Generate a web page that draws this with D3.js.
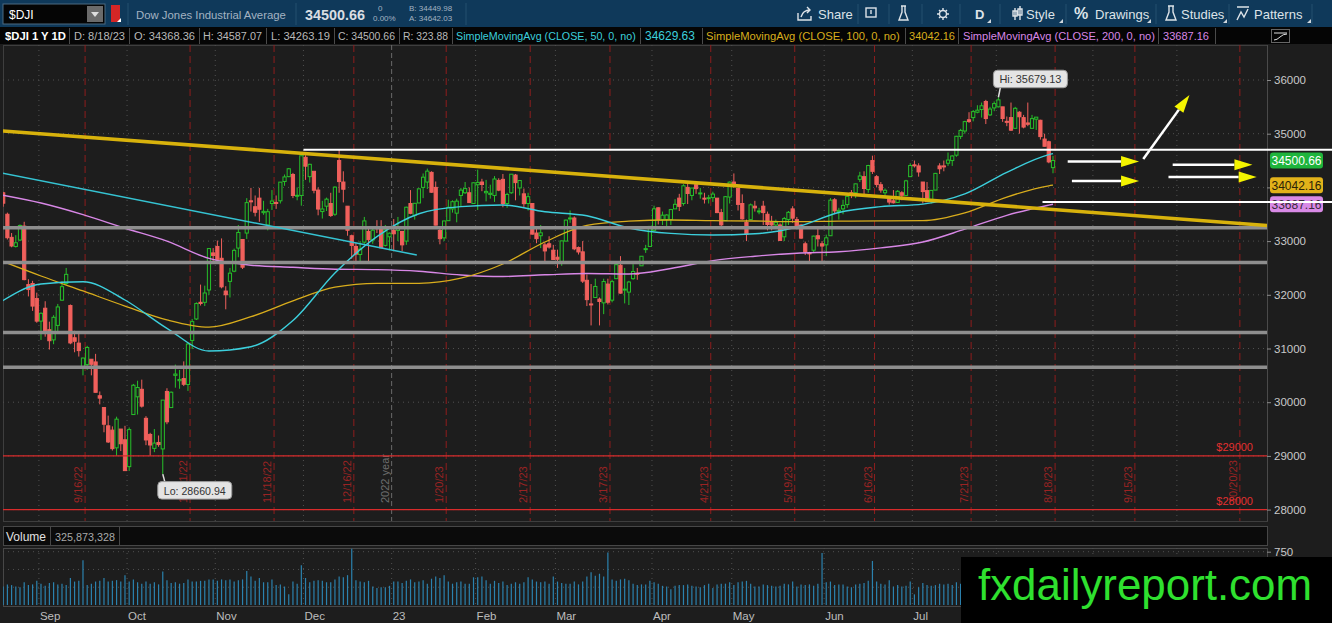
<!DOCTYPE html>
<html>
<head>
<meta charset="utf-8">
<title>$DJI 1 Y 1D</title>
<script src="https://cdn.jsdelivr.net/npm/d3@7"></script>
<style>
  html, body { margin: 0; padding: 0; background: #1d1d1d; overflow: hidden; }
  svg { display: block; font-family: "Liberation Sans", Arial, sans-serif; }
</style>
</head>
<body>
<svg id="chart" width="1332" height="623"></svg>
<script>
// trading calendar (expansion area runs to the end of Oct 2023)
const firstDay = "2022-08-18", lastDay = "2023-10-31";
const holidays = ["2022-09-05","2022-11-24","2022-12-26","2023-01-02","2023-01-16","2023-02-20",
  "2023-04-07","2023-05-29","2023-06-19","2023-07-04","2023-09-04"];

// daily candles 8/18/22 .. 8/18/23, one row per month
const opens = [
  33943,33900,33500,33070,32900,33020,33280,32190,32210,31930,
  31510,31750,31350,31160,31430,31900,32210,31800,31200,31100,30650,30700,30800,30750,30120,29900,29560,29480,29150,29500,29300,
  28800,29770,30100,30240,29700,29400,29140,29250,29130,30200,29900,30500,30400,30440,30330,31150,31550,31860,31860,32090,32780,
  32900,32680,32070,32250,32440,32870,33030,33150,33750,33640,33800,33530,33300,33700,33720,33750,34110,34200,34240,33850,33850,
  34560,34200,34300,33950,33550,33650,33700,33500,34500,34100,33650,33100,32900,32750,32980,33180,33020,33250,33250,32920,33080,
  33200,33200,33180,33000,33700,33480,33710,34000,34100,34280,34000,33200,33060,33380,33600,33520,33850,33900,33900,33700,
  34050,34100,33900,33870,33850,34130,34150,33700,33900,34230,33990,33880,33700,33700,33150,33100,32930,32950,32830,
  32700,32600,33000,33420,33430,32880,32800,32270,31830,31950,31920,31850,32200,31900,32300,32550,32100,32050,32300,32400,32540,32850,32900,
  33200,33620,33400,33400,33400,33600,33800,33700,34000,33850,34050,33880,33800,33800,33810,33800,33530,33380,33820,
  34100,33980,33700,33350,33400,33650,33560,33650,33500,33350,33300,33300,33080,33400,33600,33400,33300,32950,32780,32830,33100,32950,
  32930,33100,33770,33550,33600,33680,33900,33900,34150,34200,33960,34500,34200,34050,33900,33800,33750,33720,33900,33850,34200,
  34420,34400,34100,33940,33750,33950,34400,34400,34450,34500,34600,34950,35050,35260,35300,35400,35450,35600,35350,35480,
  35500,35500,35230,35300,35100,35400,35300,35200,35100,35270,35250,34900,34850,34368.36
];
const highs = [
  34043,33916,33530,33150,33110,33310,33360,32290,32260,32040,
  31670,31880,31500,31620,31830,32250,32500,31820,31330,31280,30830,31050,30800,30900,30200,29900,29750,29550,29730,29500,29560,
  29530,30340,30400,30420,29740,29430,29500,29380,30040,30260,30200,30700,30600,30760,31110,31550,31860,32190,32170,32870,32870,
  33010,33050,32160,32500,32860,33300,33030,33800,33990,33850,33990,33750,33600,33950,33850,34100,34240,34360,34270,34000,34590,
  34600,34440,34300,34000,33750,33810,33900,34020,34712,34300,33650,33120,32970,33000,33450,33230,33250,33390,33390,33300,33160,
  33410,33450,33180,33640,33950,33710,33980,34260,34350,34300,34110,33250,33380,33770,33760,33790,33990,34100,34000,34090,
  34330,34160,34140,34050,34210,34170,34250,33900,34250,34250,34130,33980,33900,33700,33230,33300,32970,33090,32930,
  32840,33010,33400,33570,33460,32900,33000,32380,32200,32300,31950,32300,32300,32280,32600,32720,32500,32260,32570,32500,32720,32930,33280,
  33660,33630,33550,33500,33600,33780,33880,34060,34080,33990,34120,33990,33900,33860,33920,33800,33600,33840,34110,
  34260,33980,33870,33400,33700,33750,33620,33750,33550,33470,33400,33330,33450,33560,33650,33450,33320,32990,32800,33100,33250,33000,
  33120,33800,33800,33620,33770,33850,33950,34070,34290,34300,34420,34590,34230,34100,33980,33800,33950,33950,33930,34140,34450,
  34500,34450,34100,34100,33950,34270,34450,34500,34650,34600,34960,35090,35240,35400,35440,35530,35580,35630,35500,35600,
  35679.13,35500,35320,35580,35500,35420,35350,35580,35350,35310,35260,35000,34870,34587.07
];
const lows = [
  33824,33640,33030,32885,32880,33000,32270,31970,31700,31480,
  31160,31220,30980,31080,31320,31890,32190,31080,30930,30850,30500,30600,30500,30180,29960,29440,29240,29100,29000,29090,28720,
  28720,29770,29770,29900,29200,29000,29070,29170,28660.94,29590,29900,30270,30250,30300,30210,30990,31530,31800,31790,32000,32620,
  32600,32120,31730,31950,32420,32700,32480,33040,33550,33460,33360,33490,33200,33580,33600,33700,34030,34190,33800,33760,33660,
  34140,34090,33890,33480,33420,33560,33450,33470,33900,33720,33100,32670,32570,32580,32950,32580,32950,33150,32870,32900,32830,
  32810,33000,32810,32930,33500,33400,33710,33800,33970,33900,33290,32940,33000,33380,33530,33350,33650,33880,33710,33700,
  33580,33930,33740,33790,33730,33930,33630,33620,33880,33760,33850,33630,33570,33120,32960,32870,32620,32860,32650,
  32500,32540,33000,33340,32830,32750,32220,31790,31430,31950,31430,31640,31820,31860,32300,32020,31840,31810,32280,32280,32540,32780,32900,
  33200,33310,33300,33260,33300,33600,33560,33660,33690,33760,33880,33790,33700,33700,33730,33520,33280,33380,33700,
  34000,33570,33400,33000,33400,33550,33500,33300,33200,33200,33230,33010,33000,33300,33340,33220,33040,32740,32590,32780,32900,32590,
  32720,33100,33500,33400,33500,33620,33800,33800,34100,33860,33900,34250,34000,33900,33820,33680,33700,33720,33760,33850,34200,
  34370,34200,33700,33730,33700,33950,34250,34300,34400,34400,34570,34900,35000,35200,35230,35380,35300,35180,35330,35420,
  35490,35220,35140,35050,35100,35000,35100,35140,35100,35070,34890,34760,34450,34263.19
];
const closes = [
  33999,33706,33063,32909,32969,33291,32283,32098,31790,31510,
  31656,31318,31145,31581,31774,32151,32381,31104,31135,30961,30822,31019,30706,30184,30076,29590,29260,29135,29684,29226,28726,
  29490,30316,30274,29927,29297,29203,29239,29211,30039,29635,30186,30524,30424,30334,31083,31500,31837,31839,32034,32861,32733,
  32653,32148,32001,32403,32827,33161,32514,33716,33748,33537,33593,33554,33547,33746,33700,34098,34195,34347,33850,33853,34590,
  34395,34430,33947,33597,33598,33781,33476,34005,34108,33966,33202,32920,32757,32850,33376,33027,33203,33241,32875,33221,33147,
  33136,33270,32930,33631,33517,33704,33973,34190,34303,33910,33297,33045,33375,33630,33734,33744,33949,33978,33717,34086,
  34093,34054,33926,33891,34156,33949,33699,33869,34246,34089,34128,33697,33827,33130,33045,33154,32817,32889,32657,
  32662,33004,33391,33431,32856,32798,32255,31910,31820,32155,31875,32247,31862,32245,32561,32031,32106,32238,32433,32395,32718,32860,33274,
  33601,33403,33483,33486,33587,33685,33647,34030,33887,33988,33977,33897,33787,33809,33876,33531,33302,33827,34098,
  34051,33684,33414,33128,33675,33619,33562,33531,33309,33301,33349,33012,33420,33536,33427,33287,33056,32800,32765,33093,33043,32908,
  33061,33762,33563,33573,33665,33833,33876,34066,34212,33979,34408,34299,34053,33951,33946,33727,33714,33927,33853,34122,34408,
  34418,34288,33922,33734,33944,34261,34347,34395,34509,34585,34952,35061,35225,35228,35411,35438,35520,35282,35459,35560,
  35630,35283,35216,35066,35473,35315,35124,35176,35281,35308,34946,34766,34475,34500.66
];
// volume in millions of shares
const volumes = [
  250,260,290,280,260,250,320,280,290,340,
  300,270,310,320,290,300,280,380,330,340,630,280,300,330,340,380,330,340,350,330,420,
  330,360,320,300,330,300,320,290,470,350,310,320,300,310,360,330,330,340,340,360,360,
  340,360,350,360,330,350,360,480,400,340,380,320,320,360,280,290,260,150,330,300,560,
  380,320,340,350,340,320,320,360,400,390,420,790,350,330,320,340,260,240,250,250,270,
  330,330,310,340,360,320,330,350,300,370,400,380,420,330,300,320,330,300,300,390,
  390,400,350,300,340,310,330,280,300,320,300,320,390,360,330,320,330,300,400,
  330,310,300,300,330,290,330,400,460,410,440,400,740,360,340,360,370,350,300,280,290,290,340,
  320,300,270,260,220,270,280,280,290,270,260,250,280,300,240,290,300,300,320,
  280,320,330,340,300,260,260,290,280,270,260,270,300,290,330,260,290,280,290,270,300,730,
  320,330,280,290,290,260,250,290,300,310,340,620,330,300,290,350,260,280,260,270,330,
  150,250,310,280,270,280,300,290,300,280,320,300,310,380,290,300,330,380,320,330,
  300,330,300,290,270,290,280,290,270,260,290,280,300,325.873328
];

// moving averages, every 10 sessions
const smaDates = ["2022-08-18","2022-09-01","2022-09-16","2022-09-30","2022-10-14","2022-10-28","2022-11-11",
  "2022-11-28","2022-12-12","2022-12-27","2023-01-11","2023-01-26","2023-02-09","2023-02-24","2023-03-10",
  "2023-03-24","2023-04-10","2023-04-24","2023-05-08","2023-05-22","2023-06-06","2023-06-21","2023-07-06",
  "2023-07-20","2023-08-03","2023-08-17","2023-08-18"];
const sma50 = [31847,32201,32244,31903,31376,30953,31033,31521,32406,33084,33510,33642,33672,33547,33471,
  33244,33143,33114,33136,33263,33533,33641,33689,33879,34281,34610,34629.63];
const sma100 = [32648,32350,32071,31791,31534,31398,31592,31888,32142,32214,32214,32309,32574,32983,33292,
  33371,33393,33380,33374,33363,33372,33376,33380,33525,33821,34030,34042.16];
const sma200 = [33868,33709,33493,33240,32998,32678,32551,32512,32477,32469,32439,32369,32341,32372,32397,
  32387,32490,32637,32719,32775,32801,32873,32983,33222,33480,33670,33687.16];

// axis labels
const priceTicks = [28000,29000,30000,31000,32000,33000,34000,35000,36000];
const hiddenTickLabels = [34000]; // sits under the SMA badge on the axis
const volTicks = [250,500,750];
const monthStarts = ["2022-09-01","2022-10-03","2022-11-01","2022-12-01","2023-01-03","2023-02-01","2023-03-01",
  "2023-04-03","2023-05-01","2023-06-01","2023-07-03","2023-08-01","2023-09-01","2023-10-02"];
const monthLabels = ["Sep","Oct","Nov","Dec","23","Feb","Mar","Apr","May","Jun","Jul","Aug","Sep","Oct"];
const expiryDates = ["2022-09-16","2022-10-21","2022-11-18","2022-12-16","2023-01-20","2023-02-17","2023-03-17",
  "2023-04-21","2023-05-19","2023-06-16","2023-07-21","2023-08-18","2023-09-15","2023-10-20"];
const expiryLabels = ["9/16/22","10/21/22","11/18/22","12/16/22","1/20/23","2/17/23","3/17/23",
  "4/21/23","5/19/23","6/16/23","7/21/23","8/18/23","9/15/23","10/20/23"];
const yearStart = "2023-01-03";

// hand drawings on the chart (date, price)
const grayLevels = [33250, 32600, 31300, 30650];
const redLevels = [29000, 28000];
const yellowTrend = [["2022-08-18", 35053], ["2023-10-31", 33287]];
const cyanTrend = [["2022-08-18", 34270], ["2023-01-10", 32741]];
const whiteRays = [["2022-11-30", 34700], ["2023-08-15", 33730]];
const arrows = [
  [["2023-08-23", 34480], ["2023-09-18", 34480]],
  [["2023-08-24", 34120], ["2023-09-18", 34120]],
  [["2023-09-19", 34530], ["2023-10-04", 35720]],
  [["2023-09-28", 34420], ["2023-10-25", 34420]],
  [["2023-09-27", 34195], ["2023-10-26", 34195]]
];

// ---------------------------------------------------------------
const W = 1332, H = 623;
const plotL = 3, plotR = 1267, plotT = 45, plotB = 521;
const volT = 548, volB = 606;
const cUp = "#27c02a", cDown = "#f0605c", cBg = "#1d1d1d";
const cCyan = "#3ccfdc", cGold = "#d9ad1c", cViolet = "#d887e6";

const calendar = [];
for (let d = new Date(firstDay + "T12:00:00Z"); d <= new Date(lastDay + "T12:00:00Z"); d.setUTCDate(d.getUTCDate() + 1)) {
  const s = d.toISOString().slice(0, 10), wd = d.getUTCDay();
  if (wd > 0 && wd < 6 && !holidays.includes(s)) calendar.push(s);
}
const dayIdx = new Map(calendar.map((s, i) => [s, i]));
const ix = s => dayIdx.get(s);
const last = closes.length - 1;
[opens, highs, lows, volumes].forEach(a => { if (a.length !== closes.length) throw new Error("length " + a.length); });
if (last !== ix("2023-08-18")) throw new Error("calendar mismatch " + last);

const x = d3.scaleLinear().domain([0, last]).range([-1, 1053]);
const half = (x(1) - x(0)) / 2;
const y = d3.scaleLinear().domain([28000, 36000]).range([509.6, 80]);
const yv = d3.scaleLinear().domain([0, 750]).range([605, 551.7]);
const mx = s => x(ix(s)) - half;      // month line: left edge of the first session
const ex = s => x(ix(s)) + half;      // expiry line: right edge of the session
const xd = s => x(ix(s)) + half;      // drawings anchor

const svg = d3.select("#chart");
svg.append("rect").attr("width", W).attr("height", H).attr("fill", cBg);

const defs = svg.append("defs");
defs.append("clipPath").attr("id", "clipP").append("rect")
  .attr("x", plotL).attr("y", plotT).attr("width", plotR - plotL).attr("height", plotB - plotT);
defs.append("clipPath").attr("id", "clipV").append("rect")
  .attr("x", plotL).attr("y", volT).attr("width", plotR - plotL).attr("height", volB - volT);

// shrink a text until it fits the width it has in the reference
function fit(sel, size) {
  sel.each(function (d) {
    const len = this.getComputedTextLength();
    if (len > d.w) d3.select(this).attr("font-size", size * d.w / len);
  });
}

// ---- top tool bar ----
const bar = svg.append("g");
bar.append("rect").attr("width", W).attr("height", 27).attr("fill", "#0f395a");
bar.append("rect").attr("x", 3).attr("y", 4).attr("width", 102).attr("height", 20).attr("fill", "#050505").attr("stroke", "#4d6a80");
bar.append("text").attr("x", 9).attr("y", 18.5).attr("fill", "#fff").attr("font-size", 12).text("$DJI");
bar.append("rect").attr("x", 87).attr("y", 6).attr("width", 16).attr("height", 16).attr("fill", "#6b6b6b");
bar.append("path").attr("d", "M91,12h8l-4,5z").attr("fill", "#ddd");
bar.append("rect").attr("x", 111).attr("y", 5).attr("width", 9).attr("height", 17).attr("fill", "#d42626");
bar.append("path").attr("d", "M117,22l4,0l0,-4z").attr("fill", "#fff");
[128, 296, 466].forEach(v => bar.append("line").attr("x1", v).attr("x2", v).attr("y1", 3).attr("y2", 25).attr("stroke", "#24506f"));
const headTexts = [
  { t: "Dow Jones Industrial Average", x: 136, y: 18.5, w: 150, s: 13, c: "#a3b3c2" },
  { t: closes[last].toFixed(2), x: 305, y: 19.5, w: 60, s: 15, c: "#d9dee3", b: true },
  { t: "0", x: 378, y: 11, w: 6, s: 8, c: "#a3b3c2" },
  { t: "0.00%", x: 373, y: 21, w: 28, s: 8, c: "#a3b3c2" },
  { t: "B: 34449.98", x: 409, y: 11, w: 53, s: 8, c: "#a3b3c2" },
  { t: "A: 34642.03", x: 409, y: 21, w: 53, s: 8, c: "#a3b3c2" }
];
bar.selectAll("text.head").data(headTexts).join("text").attr("class", "head")
  .attr("x", d => d.x).attr("y", d => d.y).attr("fill", d => d.c).attr("font-size", d => d.s)
  .attr("font-weight", d => d.b ? "bold" : null).text(d => d.t)
  .each(function (d) { const len = this.getComputedTextLength(); if (len > d.w) d3.select(this).attr("font-size", d.s * d.w / len); });

const tools = [
  { t: "Share", x: 818 }, { t: "D", x: 975, b: true }, { t: "Style", x: 1026 }, { t: "%", x: 1074, b: true, s: 16 },
  { t: "Drawings", x: 1095 }, { t: "Studies", x: 1181 }, { t: "Patterns", x: 1254 }
];
bar.selectAll("text.tool").data(tools).join("text").attr("class", "tool")
  .attr("x", d => d.x).attr("y", 18.5).attr("fill", "#dde3e8")
  .attr("font-size", d => d.s || 13).attr("font-weight", d => d.b ? "bold" : null).text(d => d.t);
[858, 889, 922, 960, 1000, 1066, 1156, 1229, 1312].forEach(v =>
  bar.append("line").attr("x1", v).attr("x2", v).attr("y1", 4).attr("y2", 24).attr("stroke", "#24506f"));
[987, 1059, 1147, 1223, 1307].forEach(v => bar.append("path").attr("d", `M${v},23h4v-4z`).attr("fill", "#cfd6dc"));
const ic = bar.append("g").attr("fill", "none").attr("stroke", "#dde3e8").attr("stroke-width", 1.4);
ic.append("path").attr("d", "M798,13v7h13v-4M801,17q2,-7 9,-7M807,7l3,3l-3,3");
ic.append("rect").attr("x", 866).attr("y", 8).attr("width", 10).attr("height", 9);
ic.append("path").attr("d", "M871,10v4");
ic.append("path").attr("d", "M901,6h5M902,6v6l-3,8h9l-3,-8v-6");
ic.append("path").attr("d", "M1168,6h6M1169,6v6l-3,8h10l-3,-8v-6");
ic.append("circle").attr("cx", 943).attr("cy", 14).attr("r", 3.5);
ic.append("path").attr("d", "M943,8v2M943,18v2M937,14h2M947,14h2M939,10l1.5,1.5M947,18l-1.5,-1.5M947,10l-1.5,1.5M939,18l1.5,-1.5");
ic.append("path").attr("d", "M1015,8v12M1020,6v14M1013,11h4v5h-4zM1018,9h4v6h-4z");
ic.append("path").attr("d", "M1237,7h12M1237,20l4,-8l3,5l4,-8");

// ---- study legend row ----
const leg = svg.append("g");
leg.append("rect").attr("y", 27).attr("width", W).attr("height", 17).attr("fill", "#050505");
const f2 = v => v.toFixed(2);
const legendCells = [
  { t: "$DJI 1 Y 1D", x: 5, w: 61, e: 69, c: "#ffffff", b: true },
  { t: "D: 8/18/23", x: 74, w: 51, e: 129, c: "#b9b9b9" },
  { t: "O: " + f2(opens[last]), x: 134, w: 61, e: 199, c: "#b9b9b9" },
  { t: "H: " + f2(highs[last]), x: 203, w: 59, e: 266, c: "#b9b9b9" },
  { t: "L: " + f2(lows[last]), x: 271, w: 59, e: 334, c: "#b9b9b9" },
  { t: "C: " + f2(closes[last]), x: 338, w: 57, e: 399, c: "#b9b9b9" },
  { t: "R: " + f2(highs[last] - lows[last]), x: 403, w: 45, e: 452, c: "#b9b9b9" },
  { t: "SimpleMovingAvg (CLOSE, 50, 0, no)", x: 456, w: 180, e: 640, c: cCyan },
  { t: f2(sma50[sma50.length - 1]), x: 645, w: 50, e: 702, c: cCyan },
  { t: "SimpleMovingAvg (CLOSE, 100, 0, no)", x: 706, w: 194, e: 905, c: cGold },
  { t: f2(sma100[sma100.length - 1]), x: 909, w: 46, e: 958, c: cGold },
  { t: "SimpleMovingAvg (CLOSE, 200, 0, no)", x: 963, w: 192, e: 1158, c: cViolet },
  { t: f2(sma200[sma200.length - 1]), x: 1163, w: 46, e: 1215, c: cViolet }
];
leg.selectAll("text").data(legendCells).join("text")
  .attr("x", d => d.x).attr("y", 40).attr("fill", d => d.c).attr("font-size", 12)
  .attr("font-weight", d => d.b ? "bold" : null).text(d => d.t)
  .call(fit, 12);
leg.selectAll("line").data(legendCells).join("line")
  .attr("x1", d => d.e + 0.5).attr("x2", d => d.e + 0.5).attr("y1", 28).attr("y2", 44).attr("stroke", "#4a4a4a");
leg.append("rect").attr("x", 1271.5).attr("y", 29.5).attr("width", 18).attr("height", 13).attr("fill", "none").attr("stroke", "#666");
leg.append("path").attr("d", "M1274,33h13M1274,40q3,0 6,-3t7,-3").attr("fill", "none").attr("stroke", "#ddd");

// ---- price panel ----
svg.append("rect").attr("x", plotL + 0.5).attr("y", plotT + 0.5).attr("width", plotR - plotL).attr("height", plotB - plotT)
  .attr("fill", cBg).attr("stroke", "#3e3e3e");
const plot = svg.append("g").attr("clip-path", "url(#clipP)");

plot.selectAll("line.hg").data(priceTicks).join("line").attr("class", "hg")
  .attr("x1", plotL).attr("x2", plotR).attr("y1", d => y(d)).attr("y2", d => y(d))
  .attr("stroke", "#505050").attr("stroke-dasharray", "1,4");
plot.selectAll("line.vg").data(monthStarts.filter(s => s !== yearStart)).join("line").attr("class", "vg")
  .attr("x1", mx).attr("x2", mx).attr("y1", plotT).attr("y2", plotB)
  .attr("stroke", "#505050").attr("stroke-dasharray", "1,4");
plot.append("line").attr("x1", mx(yearStart)).attr("x2", mx(yearStart)).attr("y1", plotT).attr("y2", plotB)
  .attr("stroke", "#6a6a6a").attr("stroke-dasharray", "5,3");
plot.append("text").attr("transform", `translate(${mx(yearStart) - 3},503) rotate(-90)`)
  .attr("fill", "#6e6e6e").attr("font-size", 11).text("2022 year");

plot.selectAll("line.exp").data(expiryDates).join("line").attr("class", "exp")
  .attr("x1", ex).attr("x2", ex).attr("y1", plotT).attr("y2", plotB)
  .attr("stroke", "#8e1d1d").attr("stroke-dasharray", "7,4");
plot.selectAll("text.exp").data(expiryDates).join("text").attr("class", "exp")
  .attr("transform", d => `translate(${ex(d) - 3},503) rotate(-90)`)
  .attr("fill", "#9a2323").attr("font-size", 11).text((d, i) => expiryLabels[i]);

// candles
const candles = closes.map((c, i) => ({ i, o: opens[i], h: highs[i], l: lows[i], c, up: c >= opens[i] }));
const cg = plot.append("g");
cg.selectAll("line").data(candles).join("line")
  .attr("x1", d => x(d.i)).attr("x2", d => x(d.i)).attr("y1", d => y(d.h)).attr("y2", d => y(d.l))
  .attr("stroke", d => d.up ? cUp : cDown).attr("stroke-width", 1);
cg.selectAll("rect").data(candles).join("rect")
  .attr("x", d => x(d.i) - 1.6).attr("width", 3.2)
  .attr("y", d => y(Math.max(d.o, d.c))).attr("height", d => Math.max(1, Math.abs(y(d.o) - y(d.c))))
  .attr("fill", d => d.up ? cBg : cDown).attr("stroke", d => d.up ? cUp : cDown).attr("stroke-width", 1);

// moving averages
const smaPath = vals => d3.line().x((d, i) => x(ix(smaDates[i]))).y(d => y(d)).curve(d3.curveMonotoneX)(vals);
[[sma200, cViolet, 1.4], [sma100, cGold, 1.3], [sma50, cCyan, 1.4]].forEach(([vals, col, w]) =>
  plot.append("path").attr("d", smaPath(vals)).attr("fill", "none").attr("stroke", col).attr("stroke-width", w));

// drawings
plot.selectAll("line.gray").data(grayLevels).join("line").attr("class", "gray")
  .attr("x1", plotL).attr("x2", plotR).attr("y1", d => y(d)).attr("y2", d => y(d))
  .attr("stroke", "#8e8e8e").attr("stroke-width", 3.5);
plot.selectAll("line.red").data(redLevels).join("line").attr("class", "red")
  .attr("x1", plotL).attr("x2", plotR).attr("y1", d => y(d)).attr("y2", d => y(d))
  .attr("stroke", "#d92b2b").attr("stroke-width", 1.4);
plot.selectAll("text.red").data(redLevels).join("text").attr("class", "red")
  .attr("x", 1253).attr("y", d => y(d) - 5).attr("text-anchor", "end")
  .attr("fill", "#e23030").attr("font-size", 11).text(d => "$" + d);
const seg = (g, p, col, w) => g.append("line")
  .attr("x1", xd(p[0][0])).attr("y1", y(p[0][1])).attr("x2", xd(p[1][0])).attr("y2", y(p[1][1]))
  .attr("stroke", col).attr("stroke-width", w);
seg(plot, cyanTrend, "#35c3d2", 1.5);
seg(plot, yellowTrend, "#d8b20c", 3.6);

// hi / lo bubbles
const iHi = d3.maxIndex(highs), iLo = d3.minIndex(lows);
const bubble = (ax, ay, bx, by, label) => {
  plot.append("path").attr("d", `M${ax},${ay}L${bx + 7},${by + (by > ay ? 0 : 17)}`).attr("stroke", "#dcdcdc").attr("stroke-width", 1.5);
  plot.append("rect").attr("x", bx).attr("y", by).attr("width", 74).attr("height", 17.5).attr("rx", 4)
    .attr("fill", "#e4e4e4").attr("stroke", "#9a9a9a");
  plot.append("text").datum({ w: 62 }).attr("x", bx + 6).attr("y", by + 13).attr("fill", "#333").attr("font-size", 12.5)
    .text(label).call(fit, 12.5);
};
bubble(x(iHi), y(highs[iHi]), x(iHi) - 5, y(highs[iHi]) - 27, "Hi: " + f2(highs[iHi]));
bubble(x(iLo), y(lows[iLo]), x(iLo) - 5, y(lows[iLo]) + 7.5, "Lo: " + f2(lows[iLo]));

// ---- right price axis ----
svg.append("line").attr("x1", plotR + 0.5).attr("x2", plotR + 0.5).attr("y1", plotT).attr("y2", plotB).attr("stroke", "#4a4a4a");
const ay = svg.append("g").attr("transform", `translate(${plotR},0)`)
  .call(d3.axisRight(y).tickValues(priceTicks).tickSize(4).tickPadding(3)
    .tickFormat(d => hiddenTickLabels.includes(d) ? "" : d3.format("d")(d)));
ay.attr("font-family", null).attr("font-size", 11.5);
ay.select(".domain").remove();
ay.selectAll("line").attr("stroke", "#8a8a8a");
ay.selectAll("text").attr("fill", "#c9c9c9");

const badges = [
  { v: sma200[sma200.length - 1], bg: "#d98ae6", fg: "#3a2a3d" },
  { v: sma100[sma100.length - 1], bg: "#e2b21a", fg: "#2a2207" },
  { v: closes[last], bg: "#1fb43c", fg: "#ffffff" }
];
const bd = svg.selectAll("g.badge").data(badges).join("g").attr("class", "badge");
bd.append("rect").attr("x", 1270).attr("y", d => y(d.v) - 8).attr("width", 53).attr("height", 16).attr("rx", 3).attr("fill", d => d.bg);
bd.append("text").attr("x", 1296.5).attr("y", d => y(d.v) + 4.5).attr("text-anchor", "middle")
  .attr("fill", d => d.fg).attr("font-size", 12).text(d => f2(d.v));

// white rays run through the axis to the window edge
svg.selectAll("line.ray").data(whiteRays).join("line").attr("class", "ray")
  .attr("x1", d => xd(d[0])).attr("x2", W).attr("y1", d => y(d[1])).attr("y2", d => y(d[1]))
  .attr("stroke", "#ffffff").attr("stroke-width", 2);

// arrows
const ag = svg.append("g");
arrows.forEach(a => {
  const x1 = xd(a[0][0]), y1 = y(a[0][1]), x2 = xd(a[1][0]), y2 = y(a[1][1]);
  const ang = Math.atan2(y2 - y1, x2 - x1), L = 18, hw = 5.5;
  const bx = x2 - L * Math.cos(ang), by = y2 - L * Math.sin(ang);
  const px = -Math.sin(ang) * hw, py = Math.cos(ang) * hw;
  ag.append("line").attr("x1", x1).attr("y1", y1).attr("x2", bx).attr("y2", by).attr("stroke", "#fff").attr("stroke-width", 2.5);
  ag.append("path").attr("d", `M${x2},${y2}L${bx + px},${by + py}L${bx - px},${by - py}Z`).attr("fill", "#f4f400");
});

// ---- volume ----
svg.append("rect").attr("x", plotL + 0.5).attr("y", 526.5).attr("width", plotR - plotL).attr("height", 19).attr("fill", "#0b0b0b").attr("stroke", "#474747");
svg.append("text").attr("x", 6).attr("y", 541).attr("fill", "#e0e0e0").attr("font-size", 12).text("Volume");
svg.append("line").attr("x1", 50.5).attr("x2", 50.5).attr("y1", 527).attr("y2", 545).attr("stroke", "#474747");
svg.append("text").datum({ w: 60 }).attr("x", 55).attr("y", 541).attr("fill", "#a9a9a9").attr("font-size", 12)
  .text(d3.format(",")(Math.round(volumes[last] * 1e6))).call(fit, 12);
svg.append("line").attr("x1", 119.5).attr("x2", 119.5).attr("y1", 527).attr("y2", 545).attr("stroke", "#474747");

svg.append("rect").attr("x", plotL + 0.5).attr("y", volT + 0.5).attr("width", plotR - plotL).attr("height", volB - volT).attr("fill", cBg).attr("stroke", "#474747");
const vol = svg.append("g").attr("clip-path", "url(#clipV)");
vol.selectAll("line.hg").data(volTicks).join("line").attr("class", "hg")
  .attr("x1", plotL).attr("x2", plotR).attr("y1", d => yv(d)).attr("y2", d => yv(d))
  .attr("stroke", "#505050").attr("stroke-dasharray", "1,4");
vol.selectAll("line.vg").data(monthStarts).join("line").attr("class", "vg")
  .attr("x1", mx).attr("x2", mx).attr("y1", volT).attr("y2", volB)
  .attr("stroke", "#505050").attr("stroke-dasharray", "1,4");
vol.selectAll("line.bar").data(volumes).join("line").attr("class", "bar")
  .attr("x1", (d, i) => x(i)).attr("x2", (d, i) => x(i)).attr("y1", yv(0)).attr("y2", d => yv(d))
  .attr("stroke", "#2b82ae").attr("stroke-width", 1.2);
const av = svg.append("g").attr("transform", `translate(${plotR},0)`)
  .call(d3.axisRight(yv).tickValues([750]).tickSize(4).tickPadding(3));
av.attr("font-family", null).attr("font-size", 11.5);
av.select(".domain").remove();
av.selectAll("line").attr("stroke", "#8a8a8a");
av.selectAll("text").attr("fill", "#c9c9c9");

// month axis
const ax = svg.append("g").attr("transform", `translate(0,${volB})`)
  .call(d3.axisBottom(x).tickValues(monthStarts.map(s => ix(s) - 0.5)).tickSize(0).tickPadding(6)
    .tickFormat((d, i) => monthLabels[i]));
ax.attr("font-family", null).attr("font-size", 11.5);
ax.select(".domain").remove();
ax.selectAll("text").attr("fill", "#bdbdbd").attr("text-anchor", "start").attr("dx", 0.5);

// ---- watermark ----
svg.append("rect").attr("x", 961).attr("y", 557).attr("width", W - 961).attr("height", H - 557).attr("fill", "#000");
svg.append("text").attr("x", 978).attr("y", 600).attr("fill", "#2fe12f").attr("font-size", 44)
  .attr("textLength", 334).attr("lengthAdjust", "spacingAndGlyphs").text("fxdailyreport.com");
</script>
</body>
</html>
